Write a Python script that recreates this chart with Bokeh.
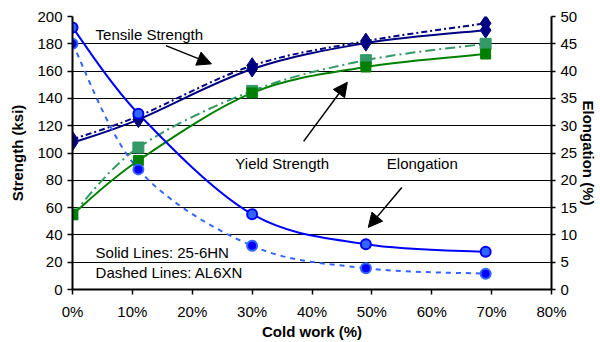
import numpy as np
from bokeh.plotting import figure
from bokeh.models import Range1d, LinearAxis, FixedTicker, Label, Arrow, NormalHead
from bokeh.embed import file_html
from bokeh.resources import INLINE

# ---- data ----
cold_work = [0, 11, 30, 49, 69]                 # % cold work
tensile_6hn = [107.5, 124.5, 161.5, 180.5, 190]  # ksi, solid
tensile_al6xn = [110, 127, 164, 182, 195]        # ksi, dashed
yield_6hn = [55, 94.5, 144, 163, 172.5]          # ksi, solid
yield_al6xn = [55, 104, 145.5, 168, 180]         # ksi, dashed
elong_6hn = [48, 32.2, 13.8, 8.3, 6.9]           # %, solid
elong_al6xn = [45, 22, 8, 3.9, 2.9]              # %, dashed

x_ticks = [0, 10, 20, 30, 40, 50, 60, 70, 80]
x_tick_labels = ["0%", "10%", "20%", "30%", "40%", "50%", "60%", "70%", "80%"]
strength_ticks = [0, 20, 40, 60, 80, 100, 120, 140, 160, 180, 200]
elong_ticks = [0, 5, 10, 15, 20, 25, 30, 35, 40, 45, 50]

FONT = "Liberation Sans"

p = figure(width=600, height=342, output_backend="svg", toolbar_location=None,
           x_range=Range1d(0, 80), y_range=Range1d(0, 200),
           min_border_left=72, min_border_right=47, min_border_top=16, min_border_bottom=53)
p.extra_y_ranges = {"elong": Range1d(0, 50)}
p.outline_line_color = None
p.background_fill_color = "white"
p.border_fill_color = "white"

# grid
p.xgrid.visible = False
p.ygrid.ticker = FixedTicker(ticks=strength_ticks)
p.ygrid.grid_line_color = "black"
p.ygrid.grid_line_width = 1


def style_axis(ax, tick_out, standoff, label, label_standoff):
    ax.axis_line_color = "black"
    ax.axis_line_width = 2
    ax.major_tick_line_color = "black"
    ax.major_tick_line_width = 1.5
    ax.major_tick_out = tick_out
    ax.major_tick_in = 0
    ax.minor_tick_line_color = None
    ax.major_label_text_font = FONT
    ax.major_label_text_font_size = "15px"
    ax.major_label_text_color = "black"
    ax.major_label_standoff = standoff
    ax.axis_label = label
    ax.axis_label_text_font = FONT
    ax.axis_label_text_font_size = "15px"
    ax.axis_label_text_font_style = "bold"
    ax.axis_label_text_color = "black"
    ax.axis_label_standoff = label_standoff


xa = p.xaxis[0]
xa.ticker = FixedTicker(ticks=x_ticks)
xa.major_label_overrides = {t: l for t, l in zip(x_ticks, x_tick_labels)}
style_axis(xa, 5, 8, "Cold work (%)", 0)

ya = p.yaxis[0]
ya.ticker = FixedTicker(ticks=strength_ticks)
style_axis(ya, 5, 5, "Strength (ksi)", 8)

ra = LinearAxis(y_range_name="elong", ticker=FixedTicker(ticks=elong_ticks))
style_axis(ra, 4, 5, "Elongation (%)", 0)
p.add_layout(ra, "right")


# ---- smoothed (Excel-like) curves through the data points ----
def smooth(xs, ys):
    n = len(xs)
    out = dict(x0=[], y0=[], x1=[], y1=[], cx0=[], cy0=[], cx1=[], cy1=[])
    for i in range(n - 1):
        x0p, y0p = (xs[i - 1], ys[i - 1]) if i > 0 else (xs[i], ys[i])
        x3p, y3p = (xs[i + 2], ys[i + 2]) if i + 2 < n else (xs[i + 1], ys[i + 1])
        out["x0"].append(xs[i]); out["y0"].append(ys[i])
        out["x1"].append(xs[i + 1]); out["y1"].append(ys[i + 1])
        out["cx0"].append(xs[i] + (xs[i + 1] - x0p) / 6)
        out["cy0"].append(ys[i] + (ys[i + 1] - y0p) / 6)
        out["cx1"].append(xs[i + 1] - (x3p - xs[i]) / 6)
        out["cy1"].append(ys[i + 1] - (y3p - ys[i]) / 6)
    return out


def curve(ys, color, dash="solid", rng=None):
    kw = dict(line_color=color, line_width=2, line_dash=dash)
    if rng:
        kw["y_range_name"] = rng
    p.bezier(**smooth(cold_work, ys), **kw)


NAVY = "#000080"
GREEN = "#008000"
SEA = "#339966"
BLUE = "#0000FF"
LBLUE = "#3366FF"

curve(tensile_al6xn, NAVY, "6 3 2 3")
curve(tensile_6hn, NAVY)
curve(yield_al6xn, SEA, "10 4 2 4")
curve(yield_6hn, GREEN)
curve(elong_al6xn, LBLUE, "5 5", "elong")
curve(elong_6hn, BLUE, "solid", "elong")

p.scatter(cold_work, tensile_al6xn, marker="diamond", size=16, fill_color=NAVY, line_color=NAVY)
p.scatter(cold_work, tensile_6hn, marker="diamond", size=16, fill_color=NAVY, line_color=NAVY)
p.scatter(cold_work, yield_al6xn, marker="square", size=11, fill_color=SEA, line_color=SEA)
p.scatter(cold_work, yield_6hn, marker="square", size=10, fill_color=GREEN, line_color=GREEN)
p.scatter(cold_work, elong_al6xn, marker="circle", size=10, fill_color=BLUE, line_color=LBLUE,
          line_width=2, y_range_name="elong")
p.scatter(cold_work, elong_6hn, marker="circle", size=10, fill_color=LBLUE, line_color=BLUE,
          line_width=2, y_range_name="elong")

# ---- annotation texts ----
def note(txt, x, y):
    p.add_layout(Label(x=x, y=y, text=txt, text_font=FONT, text_font_size="15px",
                       text_color="black", text_baseline="middle", text_align="left"))


note("Tensile Strength", 3.85, 186.8)
note("Yield Strength", 27.2, 92.2)
note("Elongation", 52.5, 92.2)
note("Solid Lines: 25-6HN", 3.85, 27.1)
note("Dashed Lines: AL6XN", 3.85, 12.5)

for xs_, ys_, xe_, ye_ in [(15.6, 178.7, 23.2, 165.3),
                           (38.6, 108.5, 45.9, 151.8),
                           (55.0, 74.8, 49.4, 45.5)]:
    p.add_layout(Arrow(end=NormalHead(size=14, fill_color="black", line_color="black"),
                       x_start=xs_, y_start=ys_, x_end=xe_, y_end=ye_,
                       line_color="black", line_width=1.5))

open("out.html", "w").write(file_html(p, INLINE))
